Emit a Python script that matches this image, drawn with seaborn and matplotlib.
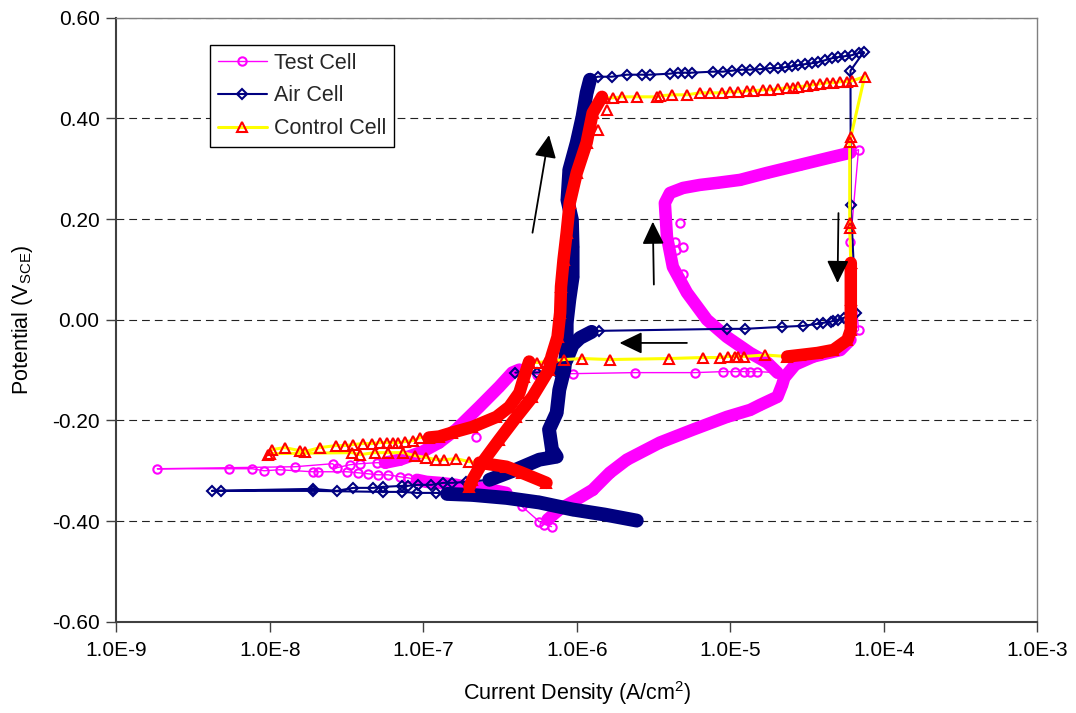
import pandas as pd
import seaborn as sns
import matplotlib.pyplot as plt
from matplotlib.lines import Line2D
from matplotlib.ticker import FixedLocator, FixedFormatter, NullLocator

sns.set_theme(style='white')
plt.rcParams['font.family'] = ['Liberation Sans', 'DejaVu Sans']
plt.rcParams['mathtext.fontset'] = 'custom'
plt.rcParams['mathtext.rm'] = 'Liberation Sans'
plt.rcParams['mathtext.it'] = 'Liberation Sans:italic'

# ---- Test Cell (current A/cm2, potential V) ----
t1_i = [6.85e-7, 5.7e-7, 4.4e-7, 3.48e-7]
t1_v = [-0.411, -0.401, -0.371, -0.344]
t2_i = [3.48e-7, 2.8e-7, 2.42e-7, 1.9e-7, 1.64e-7, 1.27e-7, 1.05e-7, 9.1e-8]
t2_v = [-0.344, -0.338, -0.334, -0.332, -0.328, -0.324, -0.322, -0.318]
t3_i = [7.95e-8, 7.05e-8, 5.9e-8, 5.07e-8, 4.35e-8, 3.75e-8, 3.18e-8, 2.06e-8,
        1.9e-8, 1.16e-8, 9.2e-9, 7.7e-9, 5.4e-9, 1.85e-9]
t3_v = [-0.314, -0.312, -0.308, -0.308, -0.306, -0.304, -0.302, -0.302,
        -0.302, -0.298, -0.300, -0.296, -0.296, -0.296]
t4_i = [1.46e-8, 2.57e-8, 2.73e-8, 3.33e-8, 3.87e-8, 4.98e-8, 5.63e-8]
t4_v = [-0.292, -0.286, -0.294, -0.288, -0.286, -0.284, -0.284]
t5_i = [5.63e-8, 7.05e-8, 9.9e-8, 1.27e-7, 1.64e-7, 2.32e-7, 3.13e-7, 3.8e-7, 4.23e-7]
t5_v = [-0.284, -0.278, -0.262, -0.244, -0.218, -0.173, -0.133, -0.105, -0.099]
t6_i = [5.55e-7, 9.5e-7, 2.39e-6, 5.9e-6, 8.95e-6, 1.08e-5, 1.22e-5, 1.35e-5, 1.5e-5]
t6_v = [-0.109, -0.107, -0.105, -0.105, -0.103, -0.103, -0.103, -0.103, -0.103]
t7_i = [2.03e-5, 1.74e-5, 1.35e-5, 9.5e-6, 7.05e-6, 5.22e-6, 4.23e-6, 3.87e-6, 3.75e-6,
        4.05e-6, 4.93e-6, 6.35e-6, 8.19e-6, 1.16e-5, 1.74e-5, 2.86e-5, 4.7e-5, 6.07e-5]
t7_v = [-0.105, -0.085, -0.066, -0.034, 0.0, 0.054, 0.105, 0.165, 0.232,
        0.252, 0.262, 0.268, 0.272, 0.278, 0.292, 0.308, 0.324, 0.332]
t8_i = [6.85e-5, 6.07e-5, 6.85e-5]
t8_v = [0.338, 0.155, -0.020]
t9_i = [6.07e-5, 5.22e-5, 3.48e-5, 2.65e-5, 2.25e-5, 2.18e-5, 2.03e-5, 1.57e-5, 1.35e-5,
        9.5e-6, 5.75e-6, 3.48e-6, 2.12e-6, 1.64e-6, 1.27e-6, 1.0e-6, 7.7e-7, 6.45e-7]
t9_v = [-0.040, -0.060, -0.073, -0.089, -0.115, -0.129, -0.153, -0.169, -0.179,
        -0.193, -0.218, -0.244, -0.278, -0.304, -0.338, -0.357, -0.377, -0.397]
t10_i = [6.15e-7]
t10_v = [-0.407]
t_spike_i = [4.93e-6, 4.4e-6, 4.93e-6, 4.35e-6, 4.7e-6, 2.2e-7]
t_spike_v = [0.091, 0.139, 0.145, 0.155, 0.193, -0.232]

# ---- Air Cell ----
a1_i = [2.46e-6, 1.52e-6, 9.4e-7, 5.7e-7, 3.5e-7, 2.09e-7, 1.43e-7]
a1_v = [-0.399, -0.387, -0.377, -0.363, -0.354, -0.348, -0.346]
a2_i = [1.22e-7, 9.1e-8, 7.3e-8, 5.5e-8, 1.9e-8, 4.84e-9, 4.2e-9]
a2_v = [-0.344, -0.344, -0.342, -0.342, -0.340, -0.340, -0.340]
a3_i = [1.9e-8, 2.73e-8, 3.5e-8, 4.7e-8, 5.5e-8, 7.3e-8, 7.9e-8, 9.2e-8, 1.13e-7,
        1.35e-7, 1.55e-7, 1.9e-7]
a3_v = [-0.336, -0.340, -0.334, -0.334, -0.332, -0.330, -0.330, -0.328, -0.328,
        -0.324, -0.324, -0.322]
a4_i = [2.7e-7, 4.0e-7, 5.7e-7, 7.4e-7, 6.9e-7, 6.6e-7, 7.4e-7, 7.7e-7, 8.3e-7, 8.6e-7,
        8.6e-7, 8.95e-7, 9.4e-7, 9.4e-7, 9.3e-7, 8.7e-7, 8.95e-7, 1.0e-6, 1.09e-6,
        1.16e-6, 1.22e-6]
a4_v = [-0.318, -0.298, -0.278, -0.272, -0.258, -0.218, -0.185, -0.139, -0.099, -0.054,
        -0.006, 0.040, 0.085, 0.145, 0.199, 0.238, 0.298, 0.352, 0.403,
        0.451, 0.477]
a5_i = [1.37e-6, 1.69e-6, 2.12e-6, 2.65e-6, 3.0e-6, 4.05e-6, 4.55e-6, 5.07e-6, 5.63e-6,
        7.7e-6, 8.95e-6, 1.03e-5, 1.2e-5, 1.35e-5, 1.57e-5, 1.82e-5, 2.06e-5, 2.28e-5,
        2.54e-5, 2.78e-5, 3.08e-5, 3.43e-5, 3.75e-5, 4.17e-5, 4.63e-5, 5.07e-5, 5.63e-5,
        6.25e-5, 6.85e-5, 7.4e-5]
a5_v = [0.483, 0.483, 0.487, 0.487, 0.487, 0.489, 0.491, 0.491, 0.491,
        0.493, 0.493, 0.495, 0.497, 0.497, 0.498, 0.500, 0.500, 0.502,
        0.504, 0.506, 0.508, 0.510, 0.512, 0.516, 0.520, 0.522, 0.524,
        0.526, 0.530, 0.532]
a6_i = [6.07e-5, 6.1e-5, 6.6e-5, 5.5e-5, 5.07e-5, 4.7e-5, 4.5e-5, 4.05e-5, 3.7e-5,
        3.0e-5, 2.18e-5, 1.25e-5, 9.5e-6, 1.39e-6, 1.25e-6]
a6_v = [0.495, 0.228, 0.014, 0.004, 0.0, -0.002, -0.004, -0.006, -0.008,
        -0.012, -0.014, -0.018, -0.018, -0.022, -0.024]
a7_i = [1.25e-6, 1.05e-6, 9.4e-7, 8.6e-7, 7.7e-7]
a7_v = [-0.024, -0.036, -0.050, -0.079, -0.103]
a8_i = [5.55e-7, 3.98e-7]
a8_v = [-0.105, -0.105]

# ---- Control Cell ----
c1_i = [2.0e-7, 2.09e-7, 2.42e-7, 3.13e-7, 4.05e-7, 5.15e-7, 6.6e-7, 6.85e-7, 7.5e-7,
        7.8e-7, 7.9e-7, 8.2e-7, 8.6e-7, 9.0e-7, 1.0e-6, 1.16e-6, 1.27e-6, 1.46e-6]
c1_v = [-0.332, -0.318, -0.284, -0.238, -0.193, -0.153, -0.099, -0.073, -0.034,
        0.014, 0.066, 0.119, 0.173, 0.232, 0.292, 0.352, 0.411, 0.443]
c2_i = [1.52e-6, 1.72e-6, 1.97e-6, 2.46e-6, 3.33e-6, 3.48e-6, 4.17e-6, 5.22e-6, 6.35e-6,
        7.4e-6, 8.83e-6, 1.0e-5, 1.13e-5, 1.29e-5, 1.41e-5, 1.64e-5, 1.82e-5, 2.06e-5,
        2.35e-5, 2.57e-5, 2.78e-5, 3.18e-5, 3.48e-5, 3.87e-5, 4.3e-5, 4.7e-5, 5.22e-5,
        5.8e-5, 6.25e-5, 7.5e-5]
c2_v = [0.441, 0.441, 0.443, 0.443, 0.443, 0.445, 0.447, 0.447, 0.451,
        0.451, 0.451, 0.453, 0.453, 0.455, 0.455, 0.457, 0.457, 0.459,
        0.461, 0.461, 0.463, 0.465, 0.467, 0.469, 0.471, 0.471, 0.473,
        0.473, 0.475, 0.483]
c3_i = [6.1e-5, 6.0e-5, 6.0e-5, 6.0e-5, 6.1e-5]
c3_v = [0.363, 0.354, 0.193, 0.183, 0.113]
c4_i = [6.1e-5, 6.1e-5, 6.1e-5, 5.8e-5, 4.7e-5, 3.7e-5, 2.86e-5, 2.35e-5]
c4_v = [0.113, 0.040, -0.020, -0.040, -0.060, -0.066, -0.070, -0.073]
c5_i = [1.69e-5, 1.22e-5, 1.13e-5, 1.08e-5, 9.7e-6, 8.6e-6, 6.6e-6, 3.98e-6, 1.64e-6,
        1.09e-6, 8.3e-7, 6.35e-7, 5.55e-7]
c5_v = [-0.070, -0.073, -0.073, -0.073, -0.073, -0.075, -0.075, -0.077, -0.079,
        -0.077, -0.079, -0.083, -0.085]
c6_i = [4.9e-7, 4.55e-7, 4.23e-7, 3.64e-7, 3.0e-7, 2.09e-7, 1.55e-7, 1.27e-7, 1.09e-7]
c6_v = [-0.083, -0.113, -0.145, -0.173, -0.193, -0.213, -0.224, -0.232, -0.234]
c7_i = [9.5e-8, 8.6e-8, 7.6e-8, 6.85e-8, 6.35e-8, 5.8e-8, 5.22e-8, 4.63e-8, 4.05e-8,
        3.48e-8, 3.08e-8, 2.7e-8, 2.12e-8, 1.69e-8, 1.57e-8, 1.25e-8, 1.03e-8, 9.8e-9]
c7_v = [-0.234, -0.240, -0.242, -0.244, -0.244, -0.244, -0.244, -0.246, -0.246,
        -0.248, -0.250, -0.250, -0.254, -0.262, -0.260, -0.254, -0.258, -0.268]
c8_i = [1.0e-8, 3.43e-8, 3.87e-8, 4.84e-8, 5.9e-8, 7.4e-8, 8.8e-8, 1.05e-7, 1.22e-7,
        1.37e-7, 1.64e-7, 2.0e-7, 2.32e-7]
c8_v = [-0.266, -0.264, -0.268, -0.264, -0.264, -0.264, -0.270, -0.274, -0.278,
        -0.278, -0.276, -0.282, -0.284]
c9_i = [2.32e-7, 3.48e-7, 4.4e-7, 6.35e-7]
c9_v = [-0.284, -0.292, -0.304, -0.324]
c_spike_i = [1.37e-6, 1.57e-6]
c_spike_v = [0.377, 0.417]

# arrows (tail -> tip)
arrow_tail_i = [5.15e-7, 3.18e-6, 5.07e-5, 5.22e-6]
arrow_tail_v = [0.173, 0.070, 0.212, -0.046]
arrow_tip_i = [6.6e-7, 3.13e-6, 5.0e-5, 1.9e-6]
arrow_tip_v = [0.367, 0.195, 0.073, -0.046]

xtick_vals = [1e-9, 1e-8, 1e-7, 1e-6, 1e-5, 1e-4, 1e-3]
xtick_labels = ['1.0E-9', '1.0E-8', '1.0E-7', '1.0E-6', '1.0E-5', '1.0E-4', '1.0E-3']
ytick_vals = [-0.6, -0.4, -0.2, 0.0, 0.2, 0.4, 0.6]
ytick_labels = ['-0.60', '-0.40', '-0.20', '0.00', '0.20', '0.40', '0.60']

# segments in scan order, flag = dense (many overlapping markers)
test_segs = [(t1_i, t1_v, False), (t2_i, t2_v, True), (t3_i, t3_v, False),
             (t4_i, t4_v, False), (t5_i, t5_v, True), (t6_i, t6_v, False),
             (t7_i, t7_v, True), (t8_i, t8_v, False), (t9_i, t9_v, True),
             (t10_i, t10_v, False)]
air_segs = [(a1_i, a1_v, True), (a2_i, a2_v, False), (a3_i, a3_v, False),
            (a4_i, a4_v, True), (a5_i, a5_v, False), (a6_i, a6_v, False),
            (a7_i, a7_v, True), (a8_i, a8_v, False)]
ctrl_segs = [(c1_i, c1_v, True), (c2_i, c2_v, False), (c3_i, c3_v, False),
             (c4_i, c4_v, True), (c5_i, c5_v, False), (c6_i, c6_v, True),
             (c7_i, c7_v, False), (c8_i, c8_v, False), (c9_i, c9_v, True)]

styles = {
    'Test Cell': dict(line='#FF00FF', mark='#FF00FF', marker='o', ms=6, lw=1.0, band=9),
    'Air Cell': dict(line='#000080', mark='#000080', marker='D', ms=4.8, lw=1.5, band=10),
    'Control Cell': dict(line='#FFFF00', mark='#FF0000', marker='^', ms=6.5, lw=2.2, band=9),
}


def draw_cell(ax, name, segs, spike_i, spike_v, z):
    st = styles[name]
    path = pd.DataFrame({'i': [x for s in segs for x in s[0]],
                         'v': [y for s in segs for y in s[1]]})
    sns.lineplot(data=path, x='i', y='v', sort=False, estimator=None, ax=ax,
                 color=st['line'], lw=st['lw'], marker=st['marker'], ms=st['ms'],
                 mec=st['mark'], mfc='none', mew=1.5, zorder=z)
    for si, sv, dense in segs:
        if dense:
            sns.lineplot(x=si, y=sv, sort=False, estimator=None, ax=ax,
                         color=st['mark'], lw=st['band'], solid_capstyle='round',
                         solid_joinstyle='round', zorder=z + 0.5)
    if spike_i:
        sns.lineplot(x=spike_i, y=spike_v, sort=False, estimator=None, ax=ax,
                     color=st['mark'], linestyle='none', marker=st['marker'],
                     ms=st['ms'], mec=st['mark'], mfc='none', mew=1.5, zorder=z + 0.6)


fig = plt.figure(figsize=(10.76, 7.13), dpi=100)
ax = fig.add_axes([0.108, 0.128, 0.856, 0.847])
ax.set_xscale('log')

draw_cell(ax, 'Test Cell', test_segs, t_spike_i, t_spike_v, 2)
draw_cell(ax, 'Air Cell', air_segs, [], [], 3)
draw_cell(ax, 'Control Cell', ctrl_segs, c_spike_i, c_spike_v, 4)

for ti, tv, hi, hv in zip(arrow_tail_i, arrow_tail_v, arrow_tip_i, arrow_tip_v):
    ax.annotate('', xy=(hi, hv), xytext=(ti, tv),
                arrowprops=dict(arrowstyle='-|>,head_length=0.6,head_width=0.29',
                                color='black', lw=1.3, mutation_scale=23,
                                shrinkA=0, shrinkB=0), zorder=6)

ax.set_xlim(1e-9, 1e-3)
ax.set_ylim(-0.6, 0.6)
ax.xaxis.set_major_locator(FixedLocator(xtick_vals))
ax.xaxis.set_major_formatter(FixedFormatter(xtick_labels))
ax.xaxis.set_minor_locator(NullLocator())
ax.yaxis.set_major_locator(FixedLocator(ytick_vals))
ax.yaxis.set_major_formatter(FixedFormatter(ytick_labels))
ax.tick_params(axis='both', which='major', direction='out', length=7, width=1,
               color='#404040', labelsize=15, labelcolor='black', pad=5)
ax.tick_params(axis='x', bottom=True, pad=7)
ax.tick_params(axis='y', left=True)

ax.yaxis.grid(True, color='#222222', linestyle=(0, (7, 4.5)), lw=0.8)
ax.xaxis.grid(False)
ax.set_axisbelow(True)

for side in ['left', 'bottom']:
    ax.spines[side].set_color('#404040')
    ax.spines[side].set_linewidth(1.5)
for side in ['top', 'right']:
    ax.spines[side].set_color('#808080')
    ax.spines[side].set_linewidth(1.0)

ax.set_xlabel('Current Density (A/cm$^{2}$)', fontsize=15.5, color='black')
ax.set_ylabel('Potential (V$_{\\mathrm{SCE}}$)', fontsize=15.5, color='black')
ax.xaxis.set_label_coords(0.5, -0.095)
ax.yaxis.set_label_coords(-0.088, 0.5)

handles = []
for name in ['Test Cell', 'Air Cell', 'Control Cell']:
    st = styles[name]
    handles.append(Line2D([], [], color=st['line'], lw=st['lw'], marker=st['marker'],
                          ms=st['ms'], mec=st['mark'], mfc='none', mew=1.5, label=name))
leg = ax.legend(handles=handles, loc='upper left', bbox_to_anchor=(0.102, 0.955),
                borderaxespad=0, frameon=True, fancybox=False, framealpha=1,
                edgecolor='black', fontsize=15.5, handlelength=2.3,
                handletextpad=0.3, labelspacing=0.55, borderpad=0.35)
leg.get_frame().set_linewidth(1.0)

fig.savefig('out.png', dpi=100)
